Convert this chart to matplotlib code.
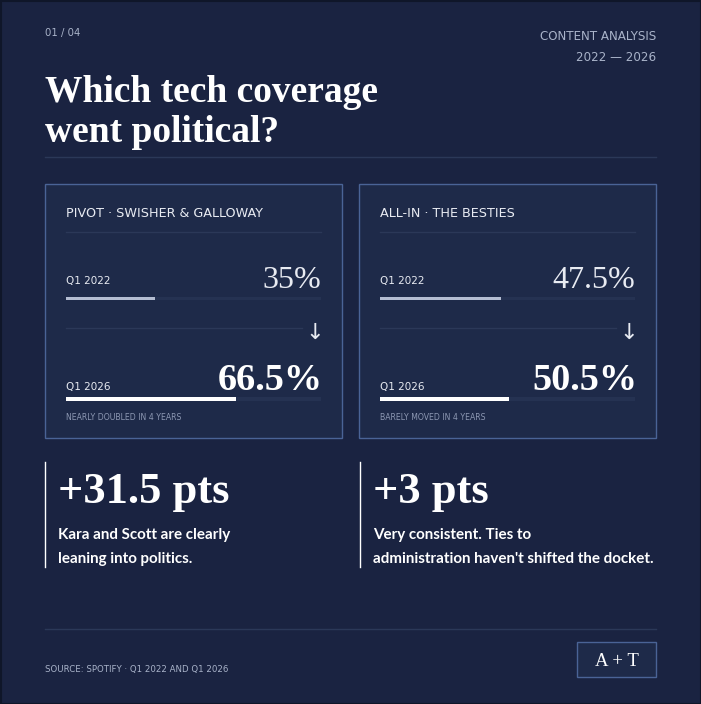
import matplotlib
matplotlib.use("Agg")
import matplotlib.pyplot as plt
from matplotlib.patches import Rectangle

# ---------------- data ----------------
shows = ["PIVOT · SWISHER & GALLOWAY", "ALL-IN · THE BESTIES"]
periods = ["Q1 2022", "Q1 2026"]
share_2022 = [35.0, 47.5]
share_2026 = [66.5, 50.5]
notes = ["NEARLY DOUBLED IN 4 YEARS", "BARELY MOVED IN 4 YEARS"]
takeaways = [["Kara and Scott are clearly", "leaning into politics."],
             ["Very consistent. Ties to", "administration haven't shifted the docket."]]
title_lines = ["Which tech coverage", "went political?"]
page_label = "01 / 04"
kicker = ["CONTENT ANALYSIS", "2022 — 2026"]
source = "SOURCE: SPOTIFY · Q1 2022 AND Q1 2026"
logo = "A + T"

# ---------------- style ----------------
BG = "#1A2341"
CARD = "#1E2A49"
CARD_EDGE = "#4A6396"
RULE = "#2B3858"
TRACK = "#253252"
BAR_OLD = "#B4BDD2"
BAR_NEW = "#FFFFFF"
MUTED = "#A9B3C9"
TEXT = "#E8EBF2"
NOTE = "#8D98B3"
SERIF = ["Liberation Serif", "DejaVu Serif"]
SANS = ["DejaVu Sans"]
BODY = ["Lato", "DejaVu Sans"]

W, H = 701, 704
fig = plt.figure(figsize=(W / 100, H / 100), dpi=100, facecolor=BG)
ax = fig.add_axes([0, 0, 1, 1])
ax.set_xlim(0, W)
ax.set_ylim(H, 0)
ax.axis("off")
ax.set_facecolor(BG)

# outer frame
ax.add_patch(Rectangle((0.5, 0.5), W - 1, H - 1, fill=False, ec="#0F1629", lw=1.5))

# header
ax.text(45, 36, page_label, color=MUTED, fontsize=7.3, family=SANS, va="baseline")
ax.text(656, 40, kicker[0], color=MUTED, fontsize=8.6, family=SANS, ha="right", va="baseline")
ax.text(656, 61, kicker[1], color=MUTED, fontsize=8.6, family=SANS, ha="right", va="baseline")
ax.text(45, 102, title_lines[0], color="white", fontsize=27, family=SERIF,
        weight="bold", va="baseline")
ax.text(45, 142, title_lines[1], color="white", fontsize=27, family=SERIF,
        weight="bold", va="baseline")
ax.plot([45, 656], [157, 157], color=RULE, lw=1)


def bar_axes(x0, y, width=255, h=3):
    bax = fig.add_axes([x0 / W, 1 - (y + h / 2) / H, width / W, h / H])
    bax.set_xlim(0, 100)
    bax.set_ylim(-0.5, 0.5)
    bax.axis("off")
    return bax


card_x = [45, 359]
card_w = 297
for i, name in enumerate(shows):
    x0 = card_x[i]
    ix = x0 + 21
    rx = x0 + card_w - 21
    ax.add_patch(Rectangle((x0, 184), card_w, 254, fc=CARD, ec=CARD_EDGE, lw=1))
    ax.text(ix, 217, name, color=TEXT, fontsize=9.2, family=SANS, va="baseline")
    ax.plot([ix, rx], [232, 232], color=RULE, lw=1)

    # 2022 row
    ax.text(ix, 284, periods[0], color=TEXT, fontsize=7.5, family=SANS, va="baseline")
    ax.text(rx, 288, f"{share_2022[i]:g}%", color=TEXT, fontsize=23, family=SERIF,
            ha="right", va="baseline")
    b = bar_axes(ix, 299)
    b.barh(0, 100, height=1, color=TRACK)
    b.barh(0, share_2022[i], height=1, color=BAR_OLD)

    ax.plot([ix, rx - 19], [328, 328], color=RULE, lw=1)
    ax.text(rx - 6, 333, "↓", color=TEXT, fontsize=16, family=SANS,
            ha="center", va="center")

    # 2026 row
    ax.text(ix, 390, periods[1], color=TEXT, fontsize=7.5, family=SANS, va="baseline")
    ax.text(rx + 2, 390, f"{share_2026[i]:g}%", color="white", fontsize=27.5, family=SERIF,
            weight="bold", ha="right", va="baseline")
    b = bar_axes(ix, 399)
    b.barh(0, 100, height=1, color=TRACK)
    b.barh(0, share_2026[i], height=1, color=BAR_NEW)

    ax.text(ix, 420, notes[i], color=NOTE, fontsize=5.6, family=SANS, va="baseline")

    # takeaway block
    lx = [45, 360][i]
    ax.plot([lx, lx], [462, 567], color="white", lw=1)
    delta = share_2026[i] - share_2022[i]
    ax.text(lx + 13, 503, f"+{delta:g} pts", color="white", fontsize=32, family=SERIF,
            weight="bold", va="baseline")
    for k, line in enumerate(takeaways[i]):
        ax.text(lx + 13, 539 + 24 * k, line, color="white", fontsize=10.9, family=BODY,
                weight="bold", va="baseline")

# footer
ax.plot([45, 656], [629, 629], color=RULE, lw=1)
ax.text(45, 672, source, color=MUTED, fontsize=6.2, family=SANS, va="baseline")
ax.add_patch(Rectangle((577, 642), 79, 35, fc=CARD, ec=CARD_EDGE, lw=1))
ax.text(616.5, 666, logo, color="white", fontsize=13.5, family=SERIF,
        ha="center", va="baseline")

fig.savefig("out.png", dpi=100, facecolor=BG)
